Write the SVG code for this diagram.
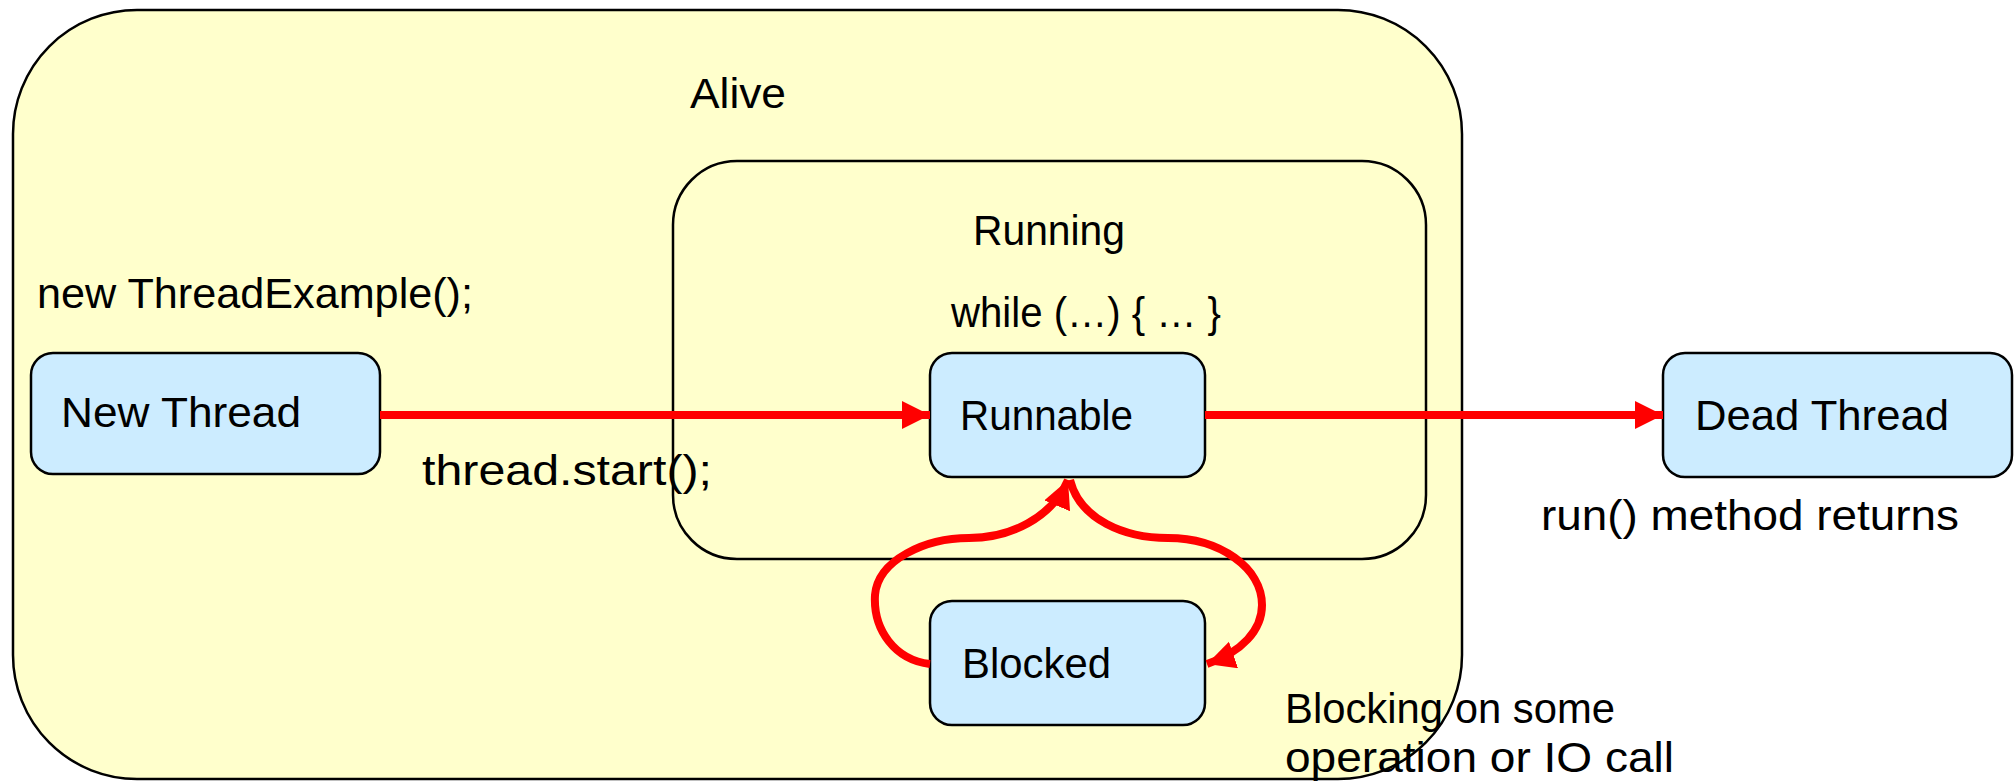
<svg xmlns="http://www.w3.org/2000/svg" width="2016" height="782" viewBox="0 0 2016 782">
<style>
.state{fill:#CCECFF;stroke:#000;stroke-width:2.5}
.cont{stroke:#000;stroke-width:2.5}
.t{font-family:"Liberation Sans","DejaVu Sans",sans-serif;font-size:42px;fill:#000}
.c{fill:none;stroke:#FF0000;stroke-width:8}
</style>
<defs>
<marker id="ah" markerUnits="userSpaceOnUse" markerWidth="32" markerHeight="32" refX="28" refY="14" orient="auto">
<path d="M0,0 L28,14 L0,28 z" fill="#FF0000"/>
</marker>
</defs>
<rect width="2016" height="782" fill="#fff"/>
<g id="alive">
<rect class="cont" x="13" y="10" width="1449" height="769" rx="124" ry="124" fill="#FFFFCC"/>
<text class="t" x="690" y="108" textLength="96" lengthAdjust="spacingAndGlyphs">Alive</text>
</g>
<g id="running">
<rect class="cont" x="673" y="161" width="753" height="398" rx="64" ry="64" fill="none"/>
<text class="t" x="973" y="245" textLength="152" lengthAdjust="spacingAndGlyphs">Running</text>
<text class="t" x="951" y="327" textLength="270" lengthAdjust="spacingAndGlyphs">while (…) { … }</text>
</g>
<g id="labels">
<text class="t" x="37" y="308" textLength="436" lengthAdjust="spacingAndGlyphs">new ThreadExample();</text>
<text class="t" x="422" y="485" textLength="290" lengthAdjust="spacingAndGlyphs">thread.start();</text>
<text class="t" x="1541" y="530" textLength="418" lengthAdjust="spacingAndGlyphs">run() method returns</text>
<text class="t" x="1285" y="723" textLength="330" lengthAdjust="spacingAndGlyphs">Blocking on some</text>
<text class="t" x="1285" y="772" textLength="389" lengthAdjust="spacingAndGlyphs">operation or IO call</text>
</g>
<g id="new-thread">
<rect class="state" x="31" y="353" width="349" height="121" rx="22" ry="22"/>
<text class="t" x="61" y="427" textLength="240" lengthAdjust="spacingAndGlyphs">New Thread</text>
</g>
<g id="runnable">
<rect class="state" x="930" y="353" width="275" height="124" rx="22" ry="22"/>
<text class="t" x="960" y="430" textLength="173" lengthAdjust="spacingAndGlyphs">Runnable</text>
</g>
<g id="blocked">
<rect class="state" x="930" y="601" width="275" height="124" rx="22" ry="22"/>
<text class="t" x="962" y="678" textLength="149" lengthAdjust="spacingAndGlyphs">Blocked</text>
</g>
<g id="dead-thread">
<rect class="state" x="1663" y="353" width="349" height="124" rx="22" ry="22"/>
<text class="t" x="1695" y="430" textLength="254" lengthAdjust="spacingAndGlyphs">Dead Thread</text>
</g>
<g id="connectors">
<path class="c" d="M380 415 L930 415" marker-end="url(#ah)"/>
<path class="c" d="M1205 415 L1663 415" marker-end="url(#ah)"/>
<path class="c" d="M930 664 C895 660 873 630 875 595 C878 560 925 538 969 538 C1010 538 1052 518 1068 480" marker-end="url(#ah)"/>
<path class="c" d="M1070 480 C1080 520 1125 538 1168 538 C1220 538 1262 568 1262 605 C1262 630 1242 652 1207 664" marker-end="url(#ah)"/>
</g>
</svg>
